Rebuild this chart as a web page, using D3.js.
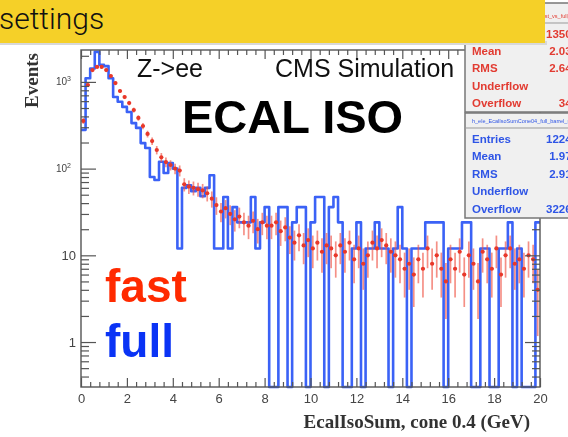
<!DOCTYPE html>
<html>
<head>
<meta charset="utf-8">
<script src="https://cdn.jsdelivr.net/npm/d3@7"></script>
<style>
  body { margin: 0; background: #fff; }
  svg { display: block; }
</style>
</head>
<body>
<div id="chart"></div>
<script>
// histogram range: 100 bins of 0.2 GeV
const binLow = 0;
const binHigh = 20;

// "full" simulation (blue step histogram), weighted events
const fullValues = [
  280, 1100, 1430, 2220, 1570, 1520, 1100, 670, 590, 515,
  450, 335, 295, 197, 173, 80, 74, 120, 89, 116,
  100, 12, 60, 64, 55, 60, 48, 60, 84, 12,
  12, 47, 12, 36, 24, 24, 24, 47, 12, 24,
  36, 0, 0, 36, 36, 0, 24, 36, 36, 0,
  24, 47, 47, 0, 36, 47, 24, 0, 0, 12,
  24, 0, 12, 12, 24, 12, 12, 0, 12, 36,
  12, 0, 12, 12, 12, 24, 24, 24, 24, 0,
  12, 12, 12, 24, 24, 0, 0, 12, 12, 0,
  0, 12, 12, 24, 0, 12, 0, 0, 0, 24
];

// "fast" simulation (red points with errors)
const fastValues = [
  355, 920, 1370, 1490, 1490, 1370, 1170, 970, 785, 670,
  571, 474, 384, 310, 251, 208, 164, 135, 119, 110,
  100, 95, 66, 62, 60, 58, 56, 52, 45, 38,
  32, 35, 30, 26, 28, 24, 22, 25, 20, 24,
  22, 22, 24, 19, 21, 16, 14, 17, 13, 15,
  12, 14, 11, 13, 12, 10, 13, 11, 14, 9,
  12, 8, 10, 14, 12, 15, 13, 11, 10, 9,
  7, 8, 6, 9, 7, 12, 8, 10, 7, 5,
  9, 7, 11, 6, 10, 8, 5, 11, 9, 7,
  12, 6, 10, 12, 8, 9, 7, 10, 9, 4
];
const fastWeight = 2;

const xTickValues = [0, 2, 4, 6, 8, 10, 12, 14, 16, 18, 20];
const yLabels = [
  { v: 1, base: '1' },
  { v: 10, base: '10' },
  { v: 100, base: '10', exp: '2' },
  { v: 1000, base: '10', exp: '3' }
];

const fastStats = [['Mean', '2.038'], ['RMS', '2.642'], ['Underflow', '0'], ['Overflow', '341']];
const fullStats = [['Entries', '12244'], ['Mean', '1.971'], ['RMS', '2.915'], ['Underflow', '0'], ['Overflow', '32261']];

const W = 568, H = 437;
const nBins = fullValues.length;
const binWidth = (binHigh - binLow) / nBins;

const svg = d3.select('#chart')
  .append('svg')
  .attr('width', W)
  .attr('height', H)
  .style('background', '#fff');

const defs = svg.append('defs');
defs.append('filter')
  .attr('id', 'soft')
  .attr('x', '-5%').attr('y', '-5%').attr('width', '110%').attr('height', '110%')
  .append('feGaussianBlur')
  .attr('stdDeviation', 0.6);

const x = d3.scaleLinear()
  .domain([binLow, binHigh])
  .range([81, 540]);

const y = d3.scaleLog()
  .domain([0.303, 2333])
  .range([387, 50]);

const bottomY = y.range()[0];
const yOf = (v) => (v > 0 ? Math.max(y.range()[1], y(v)) : bottomY);

const root = svg.append('g').attr('filter', 'url(#soft)');

// ---- histograms (clipped to frame)
defs.append('clipPath').attr('id', 'frameClip')
  .append('rect')
  .attr('x', x.range()[0]).attr('y', y.range()[1] - 2)
  .attr('width', x.range()[1] - x.range()[0])
  .attr('height', bottomY - y.range()[1] + 4);

const plot = root.append('g').attr('clip-path', 'url(#frameClip)');

const stepData = fullValues.map((v, i) => ({ e: binLow + i * binWidth, v: v }));
stepData.push({ e: binHigh, v: fullValues[nBins - 1] });

plot.append('path')
  .datum(stepData)
  .attr('fill', 'none')
  .attr('stroke', '#3a62f6')
  .attr('stroke-width', 2.6)
  .attr('stroke-linejoin', 'round')
  .attr('d', d3.line()
    .x(d => x(d.e))
    .y(d => yOf(d.v))
    .curve(d3.curveStepAfter));

const fastBins = fastValues
  .map((v, i) => ({ i: i, v: v, err: Math.sqrt(fastWeight * v) }))
  .filter(d => d.v > 0);

const fastG = plot.append('g');

fastG.selectAll('.ebar')
  .data(fastBins)
  .enter().append('line')
    .attr('class', 'ebar')
    .attr('x1', d => x(binLow + (d.i + 0.5) * binWidth))
    .attr('x2', d => x(binLow + (d.i + 0.5) * binWidth))
    .attr('y1', d => (d.v - d.err > 0 ? yOf(d.v - d.err) : bottomY))
    .attr('y2', d => yOf(d.v + d.err))
    .attr('stroke', '#f05545')
    .attr('stroke-opacity', 0.65)
    .attr('stroke-width', 1.7);

fastG.selectAll('.hbar')
  .data(fastBins)
  .enter().append('line')
    .attr('class', 'hbar')
    .attr('x1', d => x(binLow + d.i * binWidth) + 0.6)
    .attr('x2', d => x(binLow + (d.i + 1) * binWidth) - 0.6)
    .attr('y1', d => yOf(d.v))
    .attr('y2', d => yOf(d.v))
    .attr('stroke', '#ee4433')
    .attr('stroke-opacity', 0.8)
    .attr('stroke-width', 1.5);

fastG.selectAll('.marker')
  .data(fastBins)
  .enter().append('circle')
    .attr('class', 'marker')
    .attr('cx', d => x(binLow + (d.i + 0.5) * binWidth))
    .attr('cy', d => yOf(d.v))
    .attr('r', 2.1)
    .attr('fill', '#e8392a');

// ---- axes (ROOT style, ticks inward on all four sides)
const minorY = y.ticks().filter(t => Math.abs(Math.log10(t) - Math.round(Math.log10(t))) > 1e-6);
const majorY = yLabels.map(d => d.v);
const minorX = d3.range(binLow, binHigh + 1e-6, 0.4).filter(t => Math.abs(t / 2 - Math.round(t / 2)) > 1e-6);

const styleAxis = (g) => {
  g.select('.domain').remove();
  g.selectAll('line').attr('stroke', '#555').attr('stroke-width', 1.2);
};

root.append('g').attr('transform', 'translate(' + x.range()[0] + ',0)')
  .call(d3.axisLeft(y).tickValues(majorY).tickSize(-15).tickFormat(''))
  .call(styleAxis);
root.append('g').attr('transform', 'translate(' + x.range()[0] + ',0)')
  .call(d3.axisLeft(y).tickValues(minorY).tickSize(-8).tickFormat(''))
  .call(styleAxis);
root.append('g').attr('transform', 'translate(' + x.range()[1] + ',0)')
  .call(d3.axisRight(y).tickValues(majorY).tickSize(-15).tickFormat(''))
  .call(styleAxis);
root.append('g').attr('transform', 'translate(' + x.range()[1] + ',0)')
  .call(d3.axisRight(y).tickValues(minorY).tickSize(-8).tickFormat(''))
  .call(styleAxis);

const xAxisG = root.append('g').attr('transform', 'translate(0,' + bottomY + ')')
  .call(d3.axisBottom(x).tickValues(xTickValues).tickSize(-9).tickPadding(7).tickFormat(d3.format('d')))
  .call(styleAxis);
xAxisG.selectAll('text')
  .attr('font-family', '"Liberation Sans", Arial, sans-serif')
  .attr('font-size', 13)
  .attr('fill', '#444');
root.append('g').attr('transform', 'translate(0,' + bottomY + ')')
  .call(d3.axisBottom(x).tickValues(minorX).tickSize(-5).tickFormat(''))
  .call(styleAxis);
root.append('g').attr('transform', 'translate(0,' + y.range()[1] + ')')
  .call(d3.axisTop(x).tickValues(xTickValues).tickSize(-9).tickFormat(''))
  .call(styleAxis);
root.append('g').attr('transform', 'translate(0,' + y.range()[1] + ')')
  .call(d3.axisTop(x).tickValues(minorX).tickSize(-5).tickFormat(''))
  .call(styleAxis);

// frame
root.append('rect')
  .attr('x', x.range()[0])
  .attr('y', y.range()[1])
  .attr('width', x.range()[1] - x.range()[0])
  .attr('height', bottomY - y.range()[1])
  .attr('fill', 'none')
  .attr('stroke', '#555')
  .attr('stroke-width', 1.4);

// y tick labels with exponents
const yl = root.append('g')
  .attr('font-family', '"Liberation Sans", Arial, sans-serif')
  .attr('fill', '#444');
yLabels.forEach(d => {
  const t = yl.append('text')
    .attr('x', d.exp ? 71 : 76)
    .attr('y', y(d.v) + (d.exp ? 3 : 5))
    .attr('text-anchor', 'end')
    .attr('font-size', d.exp ? 10 : 13);
  t.append('tspan').text(d.base);
  if (d.exp) {
    t.append('tspan').attr('dy', -4).attr('font-size', 7).text(d.exp);
  }
});

// axis titles
root.append('text')
  .attr('x', 530)
  .attr('y', 428)
  .attr('text-anchor', 'end')
  .attr('font-family', '"Liberation Serif", "Times New Roman", serif')
  .attr('font-weight', 'bold')
  .attr('font-size', 19)
  .attr('fill', '#333')
  .text('EcalIsoSum, cone 0.4 (GeV)');

root.append('text')
  .attr('transform', 'translate(38,53) rotate(-90)')
  .attr('text-anchor', 'end')
  .attr('font-family', '"Liberation Serif", "Times New Roman", serif')
  .attr('font-weight', 'bold')
  .attr('font-size', 19)
  .attr('fill', '#333')
  .text('Events');

// ---- stats boxes
const drawStats = (top, height, color, title, titleY, rows, firstRowY) => {
  const g = root.append('g');
  g.append('rect')
    .attr('x', 465).attr('y', top)
    .attr('width', 130).attr('height', height)
    .attr('fill', '#f0f0f0')
    .attr('stroke', '#777')
    .attr('stroke-width', 1.5);
  g.append('text')
    .attr('x', 472).attr('y', titleY)
    .attr('font-family', '"Liberation Sans", Arial, sans-serif')
    .attr('font-size', 5.5)
    .attr('fill', color)
    .text(title);
  g.append('line')
    .attr('x1', 465).attr('x2', 595)
    .attr('y1', titleY + 5).attr('y2', titleY + 5)
    .attr('stroke', '#999').attr('stroke-width', 1);
  rows.forEach((r, k) => {
    const ry = firstRowY + k * 17.4;
    g.append('text')
      .attr('x', 472).attr('y', ry)
      .attr('font-family', '"Liberation Sans", Arial, sans-serif')
      .attr('font-weight', 'bold')
      .attr('font-size', 11.5)
      .attr('fill', color)
      .text(r[0]);
    g.append('text')
      .attr('x', 578).attr('y', ry)
      .attr('text-anchor', 'end')
      .attr('font-family', '"Liberation Sans", Arial, sans-serif')
      .attr('font-weight', 'bold')
      .attr('font-size', 11.5)
      .attr('fill', color)
      .text(r[1]);
  });
};

drawStats(3, 109, '#e23a30', 'h_ele_EcalIsoSumCone04_fast_vs_full_barrel', 18,
  [['Entries', '13508']].concat(fastStats), 37.5);
drawStats(113, 105, '#2f55e6', 'h_ele_EcalIsoSumCone04_full_barrel_new', 123,
  fullStats, 143);

// ---- slide overlays
const overlay = svg.append('g').attr('font-family', '"Liberation Sans", Arial, Helvetica, sans-serif');
overlay.append('text').attr('x', 137).attr('y', 77).attr('font-size', 25).attr('fill', '#111').text('Z->ee');
overlay.append('text').attr('x', 275).attr('y', 77).attr('font-size', 25).attr('fill', '#111').text('CMS Simulation');
overlay.append('text').attr('x', 182).attr('y', 133).attr('font-size', 47).attr('font-weight', 'bold').attr('fill', '#000').text('ECAL ISO');
overlay.append('text').attr('x', 105).attr('y', 302).attr('font-size', 46).attr('font-weight', 'bold').attr('fill', '#ff2a00').text('fast');
overlay.append('text').attr('x', 105).attr('y', 357).attr('font-size', 46).attr('font-weight', 'bold').attr('fill', '#0a33f5').text('full');

// yellow title banner
svg.append('rect')
  .attr('x', 0).attr('y', 41)
  .attr('width', 547).attr('height', 4)
  .attr('fill', '#d8d8d8')
  .attr('filter', 'url(#soft)');
svg.append('rect')
  .attr('x', 0).attr('y', 0)
  .attr('width', 545).attr('height', 43)
  .attr('fill', '#f5d028');
svg.append('text')
  .attr('x', -1).attr('y', 29)
  .attr('font-family', 'Roboto, "Liberation Sans", sans-serif')
  .attr('font-weight', 300)
  .attr('font-size', 30)
  .attr('fill', '#111')
  .text('settings');
</script>
</body>
</html>
